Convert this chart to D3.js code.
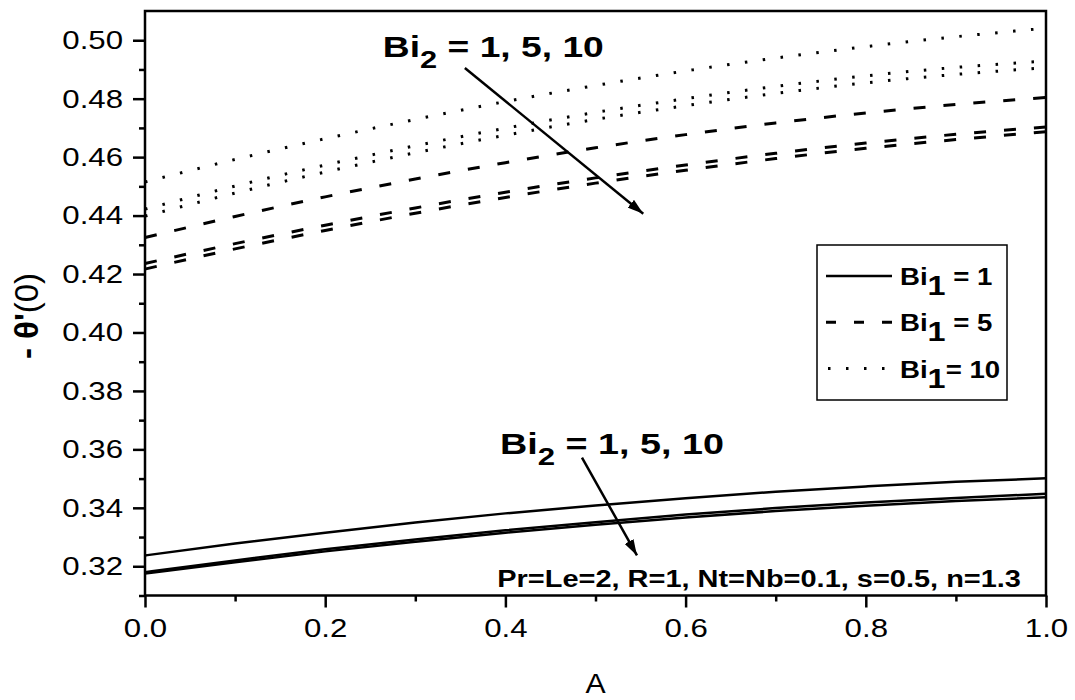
<!DOCTYPE html>
<html>
<head>
<meta charset="utf-8">
<script src="https://cdn.jsdelivr.net/npm/d3@7"></script>
<style>
  body { margin: 0; background: #fff; }
  svg { display: block; }
  text { font-family: "Liberation Sans", Arial, sans-serif; fill: #000; }
</style>
</head>
<body>
<svg id="chart" width="1075" height="700"></svg>
<script>
// values
const aValues = [0, 0.1, 0.2, 0.3, 0.4, 0.5, 0.6, 0.7, 0.8, 0.9, 1.0];

// Bi1 = 1 (solid), Bi2 = 1, 5, 10
const bi1_1_bi2_1 = [0.3237, 0.3278, 0.3315, 0.3350, 0.3381, 0.3408, 0.3433, 0.3455, 0.3473, 0.3489, 0.3501];
const bi1_1_bi2_5 = [0.3180, 0.3220, 0.3258, 0.3292, 0.3323, 0.3351, 0.3377, 0.3399, 0.3418, 0.3434, 0.3448];
const bi1_1_bi2_10 = [0.3175, 0.3214, 0.3251, 0.3284, 0.3315, 0.3342, 0.3367, 0.3389, 0.3407, 0.3423, 0.3436];

// Bi1 = 5 (dashed)
const bi1_5_bi2_1 = [0.4325, 0.4397, 0.4464, 0.4525, 0.4581, 0.4632, 0.4677, 0.4717, 0.4751, 0.4780, 0.4804];
const bi1_5_bi2_5 = [0.4236, 0.4304, 0.4367, 0.4426, 0.4480, 0.4529, 0.4573, 0.4613, 0.4648, 0.4678, 0.4703];
const bi1_5_bi2_10 = [0.4217, 0.4286, 0.4349, 0.4408, 0.4462, 0.4511, 0.4555, 0.4595, 0.4630, 0.4660, 0.4687];

// Bi1 = 10 (dotted)
const bi1_10_bi2_1 = [0.4515, 0.4592, 0.4663, 0.4729, 0.4790, 0.4845, 0.4895, 0.4939, 0.4978, 0.5012, 0.5041];
const bi1_10_bi2_5 = [0.4422, 0.4501, 0.4573, 0.4639, 0.4699, 0.4753, 0.4800, 0.4842, 0.4878, 0.4907, 0.4929];
const bi1_10_bi2_10 = [0.4398, 0.4477, 0.4549, 0.4615, 0.4675, 0.4729, 0.4776, 0.4818, 0.4854, 0.4883, 0.4906];

const xTicks = [0, 0.2, 0.4, 0.6, 0.8, 1.0];
const xMinorTicks = [0.1, 0.3, 0.5, 0.7, 0.9];
const yTicks = [0.32, 0.34, 0.36, 0.38, 0.40, 0.42, 0.44, 0.46, 0.48, 0.50];
const yMinorTicks = [0.31, 0.33, 0.35, 0.37, 0.39, 0.41, 0.43, 0.45, 0.47, 0.49];

const legendLabels = ["= 1", "= 5", "= 10"];
const paramText = "Pr=Le=2, R=1, Nt=Nb=0.1, s=0.5, n=1.3";
const bi2Text = " = 1, 5, 10";

const styles = {
  solid: { dash: null, width: 2.5 },
  dashed: { dash: "12,18", width: 3 },
  dotted: { dash: "2.5,15.5", width: 3 },
};

const series = [
  { values: bi1_1_bi2_1, style: "solid" },
  { values: bi1_1_bi2_5, style: "solid" },
  { values: bi1_1_bi2_10, style: "solid" },
  { values: bi1_5_bi2_1, style: "dashed" },
  { values: bi1_5_bi2_5, style: "dashed" },
  { values: bi1_5_bi2_10, style: "dashed" },
  { values: bi1_10_bi2_1, style: "dotted" },
  { values: bi1_10_bi2_5, style: "dotted" },
  { values: bi1_10_bi2_10, style: "dotted" },
];

const plotLeft = 145, plotRight = 1046, plotTop = 11, plotBottom = 595.5;
const tickSx = 1.2;

const svg = d3.select("#chart");
const x = d3.scaleLinear().domain([0, 1]).range([plotLeft, plotRight]);
const y = d3.scaleLinear().domain([0.31, 0.51]).range([plotBottom, plotTop]);

// curves
const line = d3.line()
  .x((d, i) => x(aValues[i]))
  .y((d) => y(d))
  .curve(d3.curveNatural);

svg.append("g")
  .selectAll("path")
  .data(series)
  .join("path")
  .attr("d", (d) => line(d.values))
  .attr("fill", "none")
  .attr("stroke", "#000")
  .attr("stroke-width", (d) => styles[d.style].width)
  .attr("stroke-dasharray", (d) => styles[d.style].dash);

// axes
function styleAxis(g) {
  g.select(".domain").remove();
  g.selectAll(".tick line").attr("stroke", "#000").attr("stroke-width", 2.5);
  g.selectAll(".tick text").attr("font-size", 26).attr("font-family", null).attr("fill", "#000");
}

svg.append("g")
  .attr("transform", `translate(${plotLeft},0)`)
  .call(d3.axisLeft(y).tickValues(yTicks).tickFormat(d3.format(".2f")).tickSize(12))
  .call(styleAxis)
  .call((g) => g.selectAll(".tick text")
    .attr("x", -22 / tickSx)
    .attr("transform", `scale(${tickSx},1)`));

svg.append("g")
  .attr("transform", `translate(${plotLeft},0)`)
  .call(d3.axisLeft(y).tickValues(yMinorTicks).tickFormat("").tickSize(6))
  .call(styleAxis);

svg.append("g")
  .attr("transform", `translate(0,${plotBottom})`)
  .call(d3.axisBottom(x).tickValues(xTicks).tickFormat(d3.format(".1f")).tickSize(12))
  .call(styleAxis)
  .call((g) => g.selectAll(".tick text")
    .attr("y", 23)
    .attr("transform", `scale(${tickSx},1)`));

svg.append("g")
  .attr("transform", `translate(0,${plotBottom})`)
  .call(d3.axisBottom(x).tickValues(xMinorTicks).tickFormat("").tickSize(6))
  .call(styleAxis);

// frame
svg.append("rect")
  .attr("x", plotLeft).attr("y", plotTop)
  .attr("width", plotRight - plotLeft).attr("height", plotBottom - plotTop)
  .attr("fill", "none").attr("stroke", "#000").attr("stroke-width", 2.5);

// axis titles
svg.append("g")
  .attr("transform", `translate(${(plotLeft + plotRight) / 2},693) scale(1.12,1)`)
  .append("text")
  .attr("text-anchor", "middle")
  .attr("font-size", 27)
  .text("A");

const yTitle = svg.append("text")
  .attr("transform", "translate(38,316) rotate(-90)")
  .attr("text-anchor", "middle")
  .attr("font-size", 33);
yTitle.append("tspan").attr("font-weight", "bold").text("- \u03b8'");
yTitle.append("tspan").text("(0)");

// text helper: parts drawn left to right, squeezed/stretched to a width
function richText(px, py, parts, opts) {
  const g = svg.append("g").attr("transform", `translate(${px},${py})`);
  const t = g.append("text")
    .attr("font-size", opts.size)
    .attr("font-weight", "bold");
  parts.forEach((p) => {
    const s = t.append("tspan").text(p.text);
    if (p.sub) {
      s.attr("font-size", opts.subSize).attr("dy", opts.subDy);
    } else if (p.back) {
      s.attr("dy", -opts.subDy);
    }
  });
  if (opts.width) {
    const w = t.node().getBBox().width;
    t.attr("transform", `scale(${opts.width / w},1)`);
  } else if (opts.sx) {
    t.attr("transform", `scale(${opts.sx},1)`);
  }
  return g;
}

// annotations
const defs = svg.append("defs");
defs.append("marker")
  .attr("id", "arrow")
  .attr("viewBox", "0 0 16 10")
  .attr("refX", 16).attr("refY", 5)
  .attr("markerWidth", 16).attr("markerHeight", 10)
  .attr("markerUnits", "userSpaceOnUse")
  .attr("orient", "auto")
  .append("path")
  .attr("d", "M0,0L16,5L0,10Z")
  .attr("fill", "#000");

const arrows = [
  { from: [0.355, 0.4905], to: [0.553, 0.4406] },
  { from: [0.485, 0.3572], to: [0.546, 0.3237] },
];
svg.append("g")
  .selectAll("line")
  .data(arrows)
  .join("line")
  .attr("x1", (d) => x(d.from[0])).attr("y1", (d) => y(d.from[1]))
  .attr("x2", (d) => x(d.to[0])).attr("y2", (d) => y(d.to[1]))
  .attr("stroke", "#000").attr("stroke-width", 2.5)
  .attr("marker-end", "url(#arrow)");

const bi2Parts = [{ text: "Bi" }, { text: "2", sub: true }, { text: bi2Text, back: true }];
richText(x(0.264), y(0.4941), bi2Parts, { size: 29, subSize: 24, subDy: 11, width: 221 });
richText(x(0.394), y(0.3585), bi2Parts, { size: 29, subSize: 24, subDy: 11, width: 224 });
richText(x(0.391), y(0.3128), [{ text: paramText }], { size: 24, width: 524 });

// legend
const legend = svg.append("g");
legend.append("rect")
  .attr("x", 817).attr("y", 245)
  .attr("width", 190).attr("height", 155)
  .attr("fill", "#fff").attr("stroke", "#000").attr("stroke-width", 1.5);

const legendKeys = ["solid", "dashed", "dotted"];
legendKeys.forEach((k, i) => {
  const ly = 276 + i * 46.3;
  legend.append("line")
    .attr("x1", k === "dotted" ? 828 : 826).attr("x2", 892)
    .attr("y1", ly).attr("y2", ly)
    .attr("stroke", "#000")
    .attr("stroke-width", styles[k].width)
    .attr("stroke-dasharray", k === "dashed" ? "10,18" : k === "dotted" ? "2.5,15.5" : null);
  const label = i === 2 ? legendLabels[i] : " " + legendLabels[i];
  richText(900, ly + 9, [{ text: "Bi" }, { text: "1", sub: true }, { text: label, back: true }],
    { size: 23, subSize: 27, subDy: 10, sx: 1.2 });
});
</script>
</body>
</html>
